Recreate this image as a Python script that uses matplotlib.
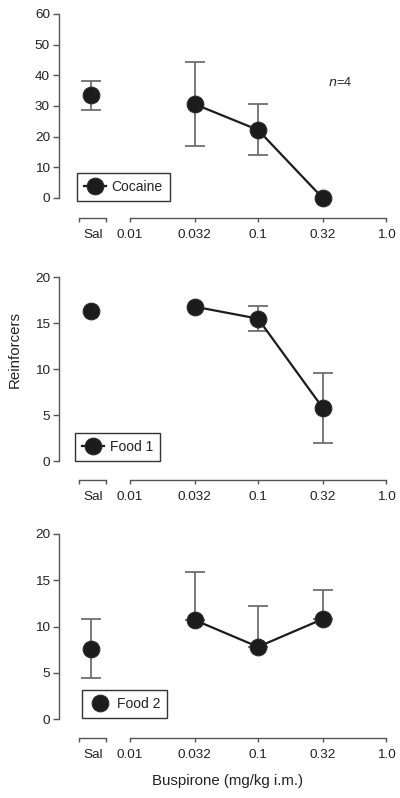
import matplotlib
matplotlib.use("Agg")
import matplotlib.pyplot as plt
from matplotlib.lines import Line2D

plt.rcParams['font.family'] = ['Liberation Sans', 'DejaVu Sans']

# ---------------- data ----------------
doses = [0.032, 0.1, 0.32]
dose_ticks = [0.01, 0.032, 0.1, 0.32, 1.0]
dose_tick_labels = ['0.01', '0.032', '0.1', '0.32', '1.0']
sal_label = 'Sal'

cocaine_sal, cocaine_sal_err = 33.5, 4.7
cocaine_vals = [30.6, 22.2, 0.0]
cocaine_err = [13.7, 8.3, 0.0]

food1_sal, food1_sal_err = 16.3, 0.0
food1_vals = [16.8, 15.5, 5.8]
food1_err = [0.0, 1.35, 3.8]

food2_sal, food2_sal_err = 7.6, 3.2
food2_vals = [10.7, 7.8, 10.8]
food2_err_up = [5.2, 4.4, 3.2]

panel_names = ['Cocaine', 'Food 1', 'Food 2']
ylims = [60, 20, 20]
yticks = [[0, 10, 20, 30, 40, 50, 60], [0, 5, 10, 15, 20], [0, 5, 10, 15, 20]]

# ---------------- layout (pixels) ----------------
W, H = 400, 798
fig = plt.figure(figsize=(W / 100, H / 100), dpi=100)

def fbox(x0, x1, ytop, ybot):
    return [x0 / W, 1 - ybot / H, (x1 - x0) / W, (ybot - ytop) / H]

# (ytop px of ymax, ybot px of 0, axis offset px)
panel_px = [(14, 198, 20), (277.3, 461, 19), (534, 719, 19)]
legend_px = [(77, 201), (75, 461), (82, 718)]

mk = dict(marker='o', markersize=12, color='#1c1c1c', markerfacecolor='#1c1c1c',
          markeredgecolor='#2a2a2a', markeredgewidth=0.8)
errc = '#6e6e6e'
spc = '#555555'
txtc = '#222222'
fs = 9.7

def draw_err(ax, xs, ys, lo, hi):
    sel = [k for k in range(len(xs)) if lo[k] > 0 or hi[k] > 0]
    if not sel:
        return
    ax.errorbar([xs[k] for k in sel], [ys[k] for k in sel],
                yerr=[[lo[k] for k in sel], [hi[k] for k in sel]], fmt='none',
                ecolor=errc, elinewidth=1.3, capsize=7, capthick=1.3,
                clip_on=False, zorder=2)

for i in range(3):
    ytop, ybot, off = panel_px[i]
    ax_s = fig.add_axes(fbox(59, 122, ytop, ybot))
    ax_m = fig.add_axes(fbox(130, 390, ytop, ybot), sharey=ax_s)
    for ax in (ax_s, ax_m):
        ax.patch.set_alpha(0)
        ax.spines['top'].set_visible(False)
        ax.spines['right'].set_visible(False)
        ax.spines['bottom'].set_position(('outward', off * 0.72))
        ax.spines['bottom'].set_color(spc)
        ax.spines['bottom'].set_linewidth(1.0)
        ax.tick_params(axis='x', colors=spc, labelcolor=txtc, labelsize=fs,
                       length=3, width=1.0, pad=5)
    ax_m.spines['left'].set_visible(False)
    ax_m.tick_params(axis='y', left=False, labelleft=False)
    ax_s.spines['left'].set_color(spc)
    ax_s.spines['left'].set_linewidth(1.0)
    ax_s.tick_params(axis='y', colors=spc, labelcolor=txtc, labelsize=fs,
                     length=4.5, width=1.0, pad=2)
    ax_s.set_ylim(0, ylims[i])
    ax_s.set_yticks(yticks[i])

    # saline axis
    ax_s.set_xlim(-1, 1)
    ax_s.spines['bottom'].set_bounds(-0.35, 0.5)
    ax_s.set_xticks([-0.35, 0.5], labels=['', ''])
    ax_s.set_xticks([0.08], labels=[sal_label], minor=True)
    ax_s.tick_params(axis='x', which='minor', length=0, pad=8, labelsize=fs,
                     labelcolor=txtc)

    # dose axis
    ax_m.set_xscale('log')
    ax_m.set_xlim(0.01, 1.0746)
    ax_m.spines['bottom'].set_bounds(0.01, 1.0)
    ax_m.set_xticks(dose_ticks, labels=dose_tick_labels)
    ax_m.xaxis.set_minor_locator(matplotlib.ticker.NullLocator())

    if i == 0:
        sv, se, vals = cocaine_sal, cocaine_sal_err, cocaine_vals
        lo, hi = cocaine_err, cocaine_err
    elif i == 1:
        sv, se, vals = food1_sal, food1_sal_err, food1_vals
        lo, hi = food1_err, food1_err
    else:
        sv, se, vals = food2_sal, food2_sal_err, food2_vals
        lo, hi = [0] * len(doses), food2_err_up

    draw_err(ax_s, [0], [sv], [se], [se])
    ax_s.plot([0], [sv], linestyle='none', clip_on=False, zorder=3, **mk)

    draw_err(ax_m, doses, vals, lo, hi)
    ax_m.plot(doses, vals, linestyle='-', linewidth=1.6, clip_on=False, zorder=3, **mk)

    # legend
    lx, lyb = legend_px[i]
    if i < 2:
        h = Line2D([], [], linestyle='-', linewidth=1.6, **mk)
    else:
        h = Line2D([], [], linestyle='none', **mk)
    leg = fig.legend([h], [panel_names[i]], loc='lower left',
                     bbox_to_anchor=(lx / W, 1 - lyb / H), bbox_transform=fig.transFigure,
                     borderaxespad=0, fancybox=False, framealpha=1, fontsize=10,
                     handlelength=1.6, handletextpad=0.4, borderpad=0.5,
                     edgecolor='#333333')
    leg.get_frame().set_linewidth(1.0)
    for t in leg.get_texts():
        t.set_color(txtc)

    if i == 0:
        fig.text(340 / W, 1 - 82 / H, r'$\it{n}$=4', fontsize=9.2, color=txtc,
                 ha='center', va='center')

fig.text(15 / W, 1 - 350 / H, 'Reinforcers', rotation=90, fontsize=10.8,
         color=txtc, ha='center', va='center')
fig.text(228 / W, 1 - 781 / H, 'Buspirone (mg/kg i.m.)', fontsize=10.8,
         color=txtc, ha='center', va='center')

fig.savefig('out.png', dpi=100)
